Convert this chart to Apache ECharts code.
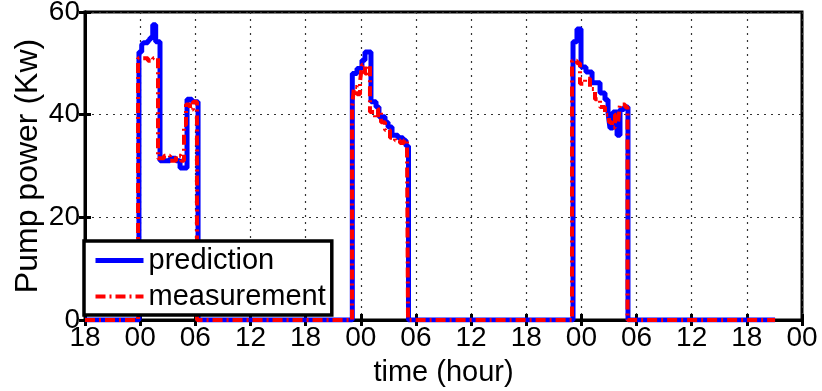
<!DOCTYPE html>
<html>
<head>
<meta charset="utf-8">
<script src="https://cdn.jsdelivr.net/npm/echarts@6/dist/echarts.min.js"></script>
<style>
html,body{margin:0;padding:0;background:#fff;}
#c{width:822px;height:391px;}
</style>
</head>
<body>
<div id="c"></div>
<script>
// hours since 18:00 of the first day
var xTickLabels = ['18','00','06','12','18','00','06','12','18','00','06','12','18','00'];
var yTickValues = [0, 20, 40, 60];

var predHours = [0, 5.87, 6.17, 6.36, 6.85, 7.07, 7.37, 7.69, 8.16, 9.25, 9.9, 10.34, 11.1, 11.64, 12.3,
  29.08, 29.59, 30.13, 30.46, 31.11, 31.66, 31.98, 32.64, 32.97, 33.4, 34.05, 34.6, 34.92, 35.19,
  53.09, 53.52, 53.96, 54.5, 55.16, 56.03, 56.57, 56.9, 57.11, 57.44, 57.88, 58.2, 58.64, 59.07, 75.07];
var predValues = [0, 52.2, 53.6, 54, 54.5, 55, 57.5, 54.2, 31, 31.5, 31, 29.6, 43, 42.5, 0,
  48, 49, 50.6, 52.2, 42.5, 41.5, 39.6, 38.5, 37.6, 36, 35.5, 35, 33.9, 0,
  54.2, 56.7, 49.3, 48.3, 46.2, 44.2, 42.9, 40.3, 37.4, 40.5, 36, 41, 41.5, 0, 0];

var measHours = [0, 5.77, 6.85, 7.4, 7.94, 8.6, 9.25, 9.9, 10.44, 10.77, 10.99, 11.42, 11.75, 12.18,
  29.05, 29.26, 29.59, 29.92, 30.13, 30.46, 30.68, 31.0, 31.55, 31.88, 32.2, 32.64, 33.18, 33.73, 34.27, 34.7, 35.03, 35.14,
  52.98, 53.52, 53.85, 54.4, 54.94, 55.48, 56.03, 56.57, 57.0, 57.33, 57.66, 57.99, 58.2, 58.75, 59.02, 75.07];
var measValues = [0, 51, 50.5, 51, 31.5, 32, 31, 32, 31, 38, 42, 41, 42.5, 0,
  41.3, 45.4, 44, 46.4, 49.7, 48, 49.5, 40.5, 39.4, 41, 38.5, 37, 35.5, 35, 34.5, 35, 33.5, 0,
  50.5, 50, 46, 47, 45, 43, 41.5, 40, 38.5, 37.5, 40, 38.5, 42, 41.5, 0, 0];

function pairs(xs, ys){ var o=[]; for(var i=0;i<xs.length;i++) o.push([xs[i], ys[i]]); return o; }

var FONT = 'Liberation Sans, Arial, sans-serif';
var chart = echarts.init(document.getElementById('c'));
var xCommon = {type:'value', min:0, max:78, interval:6};
var yCommon = {type:'value', min:0, max:60, interval:20};
chart.setOption({
  animation:false,
  grid:{left:85, right:20, top:12, bottom:71, show:true, borderColor:'#000', borderWidth:3,
        backgroundColor:'transparent', containLabel:false, outerBoundsMode:'none'},
  legend:{
    left:84, top:241, orient:'vertical', itemGap:7, itemWidth:48, itemHeight:14,
    padding:[5, 6, 4, 9],
    backgroundColor:'#fff', borderColor:'#000', borderWidth:3.5, borderRadius:0,
    itemStyle:{opacity:0, borderWidth:0},
    textStyle:{fontFamily:FONT, fontSize:29, color:'#000'},
    data:[
      {name:'prediction', lineStyle:{width:5, color:'#0000ff', type:'solid'}},
      {name:'measurement', lineStyle:{width:4, color:'#ff0000', type:[10,4,2,4]}}
    ]
  },
  xAxis:[
    Object.assign({}, xCommon, {
      position:'bottom',
      name:'time (hour)', nameLocation:'middle', nameGap:38, nameMoveOverlap:false,
      nameTextStyle:{fontFamily:FONT, fontSize:29, color:'#000'},
      axisLine:{show:true, lineStyle:{color:'#000', width:3}},
      axisTick:{show:true, inside:true, length:6, lineStyle:{color:'#000', width:3}},
      axisLabel:{fontFamily:FONT, fontSize:28, color:'#000', margin:4,
        formatter:function(v){ return xTickLabels[Math.round(v/6)]; }},
      splitLine:{show:true, lineStyle:{color:'#333', width:1.2, type:[2,5]}}
    }),
    Object.assign({}, xCommon, {
      position:'top',
      axisLine:{show:true, lineStyle:{color:'#000', width:3}},
      axisTick:{show:true, inside:true, length:6, lineStyle:{color:'#000', width:3}},
      axisLabel:{show:false}, splitLine:{show:false}
    })
  ],
  yAxis:[
    Object.assign({}, yCommon, {
      position:'left',
      name:'Pump power (Kw)', nameLocation:'middle', nameGap:41, nameMoveOverlap:false,
      nameTextStyle:{fontFamily:FONT, fontSize:32, color:'#000'},
      axisLine:{show:true, lineStyle:{color:'#000', width:3}},
      axisTick:{show:true, inside:true, length:6, lineStyle:{color:'#000', width:3}},
      axisLabel:{fontFamily:FONT, fontSize:28, color:'#000', margin:5},
      splitLine:{show:true, lineStyle:{color:'#333', width:1.2, type:[2,5]}}
    }),
    Object.assign({}, yCommon, {
      position:'right',
      axisLine:{show:true, lineStyle:{color:'#000', width:3}},
      axisTick:{show:true, inside:true, length:6, lineStyle:{color:'#000', width:3}},
      axisLabel:{show:false}, splitLine:{show:false}
    })
  ],
  series:[
    {name:'prediction', type:'line', step:'end', showSymbol:false, symbol:'none', symbolSize:0,
     data:pairs(predHours, predValues), xAxisIndex:0, yAxisIndex:0,
     lineStyle:{color:'#0000ff', width:5}, itemStyle:{color:'#0000ff'}, z:2},
    {name:'measurement', type:'line', step:'end', showSymbol:false, symbol:'none', symbolSize:0,
     data:pairs(measHours, measValues), xAxisIndex:0, yAxisIndex:0,
     lineStyle:{color:'#ff0000', width:4, type:[10,4,2,4]}, itemStyle:{color:'#ff0000'}, z:3}
  ]
});
</script>
</body>
</html>
